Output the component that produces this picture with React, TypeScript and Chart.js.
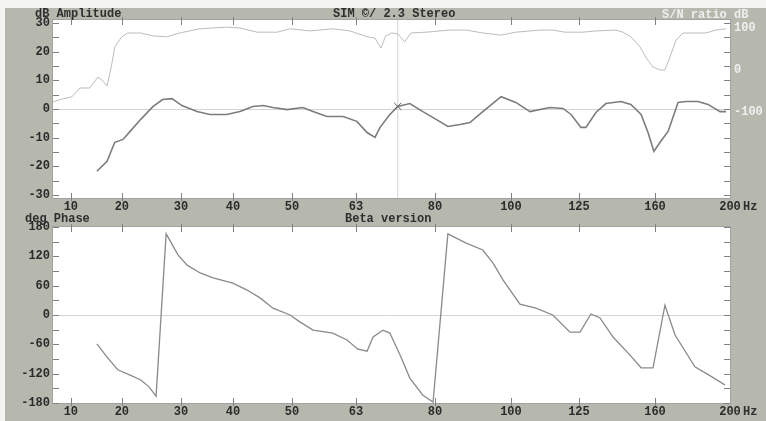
import React, { useEffect, useRef } from 'react';
import { Chart, registerables } from 'chart.js';

Chart.register(...registerables);

// ---- analyzer frequency axis (uneven SIM-style spacing) ----
const AXIS_FREQS = [10, 20, 30, 40, 50, 63, 80, 100, 125, 160, 200];
const AXIS_LABELS = ['10', '20', '30', '40', '50', '63', '80', '100', '125', '160', '200'];
const AXIS_POS = [0, 51, 110, 162, 221, 285, 364, 440, 508, 584, 659];
const X_MIN_HZ = 6.5;
const X_MAX_HZ = 200;

// ---- amplitude (dB) ----
const AMP_FREQ = [15.1, 17.1, 18.6, 20.2, 21.4, 23.2, 25.3, 26.9, 28.5, 30.2, 33.1, 35.6, 38.8, 41.2, 43.4, 45.1, 46.8, 49.2, 52.2, 54.3, 57.1, 60.4, 63.2, 65.4, 67.1, 68.2, 70.3, 72.0, 74.6, 77.4, 80.3, 83.4, 86.6, 89.2, 92.6, 97.4, 101.8, 107.0, 114.3, 119.1, 122.1, 125.9, 128.2, 132.8, 137.4, 144.3, 148.9, 153.6, 156.8, 159.5, 162.7, 167.0, 172.3, 176.5, 182.9, 188.3, 194.7, 197.9];
const AMP_DB = [-21.7, -18.2, -11.6, -10.6, -7.8, -3.6, 0.9, 3.3, 3.6, 1.2, -0.9, -1.9, -1.9, -0.9, 0.9, 1.2, 0.5, -0.2, 0.5, -0.9, -2.6, -2.6, -4.3, -8.2, -9.9, -6.4, -1.9, 0.9, 1.9, -0.9, -3.6, -6.1, -5.4, -4.7, -0.9, 4.3, 2.3, -0.9, 0.5, 0.2, -1.9, -6.4, -6.4, -1.2, 1.9, 2.6, 1.6, -1.9, -8.2, -14.8, -11.6, -7.8, 2.3, 2.6, 2.6, 1.6, -0.9, -0.9];

// ---- S/N ratio (right axis) ----
const SN_FREQ = [6.5, 8.4, 10.2, 11.8, 13.7, 15.3, 16.1, 17.1, 18.0, 18.6, 20.0, 21.0, 23.2, 25.3, 27.6, 29.8, 33.6, 38.8, 41.2, 44.1, 47.5, 49.7, 53.7, 58.3, 61.8, 65.4, 67.1, 68.4, 69.4, 70.7, 72.0, 73.5, 74.8, 78.1, 83.9, 88.2, 92.6, 97.4, 101.8, 110.7, 115.4, 119.9, 126.8, 132.8, 142.0, 145.3, 148.9, 153.1, 155.9, 159.1, 162.7, 165.3, 168.0, 171.2, 174.9, 180.3, 187.2, 192.5, 197.9];
const SN_VAL = [-76, -69, -64, -43, -43, -17, -24, -38, 12, 55, 79, 88, 88, 81, 79, 88, 98, 102, 100, 90, 90, 98, 93, 98, 93, 79, 76, 52, 81, 88, 86, 67, 88, 90, 95, 95, 88, 83, 90, 95, 95, 90, 90, 93, 95, 90, 79, 55, 29, 7, 0, 0, 31, 71, 88, 88, 88, 95, 98];

// ---- phase (deg) ----
const PH_FREQ = [15.1, 17.1, 19.2, 21.4, 23.2, 24.6, 25.8, 27.5, 28.3, 29.5, 31.2, 33.7, 36.2, 40.0, 42.4, 44.6, 46.8, 49.7, 51.6, 54.3, 58.3, 61.2, 63.4, 65.4, 66.7, 68.8, 70.3, 72.5, 74.6, 77.4, 79.6, 83.4, 88.2, 92.6, 95.3, 97.9, 103.3, 109.2, 115.4, 121.7, 125.5, 130.5, 134.7, 140.7, 148.5, 153.6, 159.1, 165.3, 170.7, 181.3, 188.8, 197.3];
const PH_DEG = [-59, -86, -112, -123, -133, -147, -166, 166, 149, 123, 102, 86, 76, 65, 51, 35, 14, 0, -14, -31, -37, -51, -70, -74, -45, -31, -37, -82, -129, -164, -178, 166, 147, 133, 106, 72, 22, 14, 0, -35, -35, 2, -6, -45, -82, -108, -108, 20, -41, -106, -123, -143];

// ---- cursor ----
const CURSOR_HZ = 72;
const CURSOR_DB = 0.9;

// ---- axis ticks ----
const AMP_TICKS = [30, 20, 10, 0, -10, -20, -30];
const SN_TICKS = [100, 0, -100];
const PH_TICKS = [180, 120, 60, 0, -60, -120, -180];

function warp(f: number): number {
  const n = AXIS_FREQS.length;
  let i = 0;
  if (f >= AXIS_FREQS[n - 1]) i = n - 2;
  else if (f > AXIS_FREQS[0]) {
    while (f > AXIS_FREQS[i + 1]) i++;
  }
  const f0 = AXIS_FREQS[i], f1 = AXIS_FREQS[i + 1];
  const p0 = AXIS_POS[i], p1 = AXIS_POS[i + 1];
  return p0 + ((f - f0) * (p1 - p0)) / (f1 - f0);
}

const pts = (fs: number[], vs: number[]) => fs.map((f, i) => ({ x: warp(f), y: vs[i] }));

const FONT = 'Liberation Mono';
const tickFont = { family: FONT, size: 12, weight: 'bold' as const };

function panelPlugin(minorStep: number, yMin: number, yMax: number) {
  return {
    id: 'panel',
    beforeDraw(chart: any) {
      const { ctx, chartArea: a } = chart;
      ctx.save();
      ctx.fillStyle = '#ffffff';
      ctx.fillRect(a.left, a.top, a.right - a.left, a.bottom - a.top);
      ctx.restore();
    },
    afterDraw(chart: any) {
      const { ctx, chartArea: a, scales } = chart;
      ctx.save();
      ctx.strokeStyle = '#a2a2a2';
      ctx.lineWidth = 1;
      ctx.strokeRect(a.left - 0.5, a.top - 0.5, a.right - a.left + 1, a.bottom - a.top + 1);
      ctx.strokeStyle = '#808080';
      ctx.beginPath();
      for (const t of scales.x.ticks) {
        const px = Math.round(scales.x.getPixelForValue(t.value)) + 0.5;
        if (px > a.right - 2) continue;
        ctx.moveTo(px, a.top - 3);
        ctx.lineTo(px, a.top + 5);
        ctx.moveTo(px, a.bottom - 5);
        ctx.lineTo(px, a.bottom + 3);
      }
      for (let v = yMin; v <= yMax; v += minorStep) {
        const py = Math.round(scales.y.getPixelForValue(v)) + 0.5;
        ctx.moveTo(a.left, py);
        ctx.lineTo(a.left + 6, py);
        ctx.moveTo(a.right - 6, py);
        ctx.lineTo(a.right, py);
      }
      ctx.stroke();
      ctx.restore();
    },
  };
}

function xScale(height: number) {
  return {
    type: 'linear',
    position: 'bottom',
    min: warp(X_MIN_HZ),
    max: warp(X_MAX_HZ),
    afterFit: (s: any) => { s.height = height; },
    afterBuildTicks: (s: any) => { s.ticks = AXIS_FREQS.map((f) => ({ value: warp(f) })); },
    ticks: {
      autoSkip: false,
      maxRotation: 0,
      padding: 2,
      color: '#2b2b2b',
      font: tickFont,
      callback: (_v: any, i: number) => AXIS_LABELS[i],
    },
    grid: { display: false, drawTicks: false },
    border: { display: false },
  };
}

function yScale(ticks: number[], min: number, max: number, opts: any = {}) {
  return {
    type: 'linear',
    min,
    max,
    afterFit: (s: any) => { s.width = opts.width ?? 53; },
    afterBuildTicks: (s: any) => { s.ticks = ticks.map((v) => ({ value: v })); },
    ticks: {
      padding: opts.padding ?? 3,
      color: opts.color ?? '#2b2b2b',
      font: tickFont,
      callback: (v: any) => String(v),
    },
    grid: opts.grid ?? { display: false, drawTicks: false },
    border: { display: false },
    position: opts.position ?? 'left',
  };
}

const zeroGrid = {
  drawTicks: false,
  color: (c: any) => (c.tick && c.tick.value === 0 ? '#d4d4d4' : 'rgba(0,0,0,0)'),
  lineWidth: 1,
};

export default function App() {
  const topRef = useRef<HTMLCanvasElement>(null);
  const botRef = useRef<HTMLCanvasElement>(null);

  useEffect(() => {
    const top = new Chart(topRef.current as HTMLCanvasElement, {
      type: 'line',
      data: {
        datasets: [
          {
            data: [{ x: warp(CURSOR_HZ), y: CURSOR_DB }],
            showLine: false,
            pointStyle: 'crossRot',
            pointRadius: 5,
            borderColor: '#5c5c5c',
            borderWidth: 1,
            yAxisID: 'y',
          },
          {
            data: pts(AMP_FREQ, AMP_DB),
            borderColor: '#7c7c7c',
            borderWidth: 1.6,
            pointRadius: 0,
            tension: 0,
            yAxisID: 'y',
          },
          {
            data: pts(SN_FREQ, SN_VAL),
            borderColor: '#bdbdbd',
            borderWidth: 1,
            pointRadius: 0,
            tension: 0,
            yAxisID: 'y2',
          },
          {
            data: [{ x: warp(CURSOR_HZ), y: -31 }, { x: warp(CURSOR_HZ), y: 31 }],
            borderColor: '#d6d6d6',
            borderWidth: 1,
            pointRadius: 0,
            yAxisID: 'y',
          },
        ],
      },
      options: {
        responsive: false,
        animation: false,
        events: [],
        layout: { padding: { top: 20, left: 0, right: 0, bottom: 0 } },
        plugins: { legend: { display: false }, tooltip: { enabled: false } },
        scales: {
          x: xScale(15),
          y: yScale(AMP_TICKS, -31, 31, { grid: zeroGrid }),
          y2: yScale(SN_TICKS, -305, 119, { position: 'right', width: 36, padding: 4, color: '#efefef' }),
        },
      } as any,
      plugins: [panelPlugin(5, -30, 30)],
    } as any);

    const bot = new Chart(botRef.current as HTMLCanvasElement, {
      type: 'line',
      data: {
        datasets: [
          {
            data: pts(PH_FREQ, PH_DEG),
            borderColor: '#8a8a8a',
            borderWidth: 1.3,
            pointRadius: 0,
            tension: 0,
          },
        ],
      },
      options: {
        responsive: false,
        animation: false,
        events: [],
        layout: { padding: { top: 14, left: 0, right: 36, bottom: 0 } },
        plugins: { legend: { display: false }, tooltip: { enabled: false } },
        scales: {
          x: xScale(18),
          y: yScale(PH_TICKS, -180, 180, { grid: zeroGrid }),
        },
      } as any,
      plugins: [panelPlugin(30, -180, 180)],
    } as any);

    return () => {
      top.destroy();
      bot.destroy();
    };
  }, []);

  const txt = (s: string, left: number, topPx: number, color = '#2e2e2e') => (
    <div
      style={{
        position: 'absolute',
        left,
        top: topPx,
        font: `bold 12px "${FONT}", monospace`,
        lineHeight: '12px',
        color,
        whiteSpace: 'pre',
      }}
    >
      {s}
    </div>
  );

  return (
    <div style={{ position: 'absolute', left: 0, top: 0, width: 766, height: 421, background: '#f4f4f2', overflow: 'hidden' }}>
      <div style={{ position: 'absolute', left: 5, top: 8, width: 761, height: 413, background: '#b6b8ae' }} />
      <canvas ref={topRef} width={766} height={213} style={{ position: 'absolute', left: 0, top: 0, width: 766, height: 213 }} />
      <canvas ref={botRef} width={766} height={208} style={{ position: 'absolute', left: 0, top: 213, width: 766, height: 208 }} />
      {txt('dB Amplitude', 35, 8)}
      {txt('SIM ©/ 2.3 Stereo', 333, 8)}
      {txt('S/N ratio dB', 662, 9, '#eeeeee')}
      {txt('deg Phase', 25, 213)}
      {txt('Beta version', 345, 213)}
      {txt('Hz', 743, 201)}
      {txt('Hz', 743, 406)}
    </div>
  );
}
